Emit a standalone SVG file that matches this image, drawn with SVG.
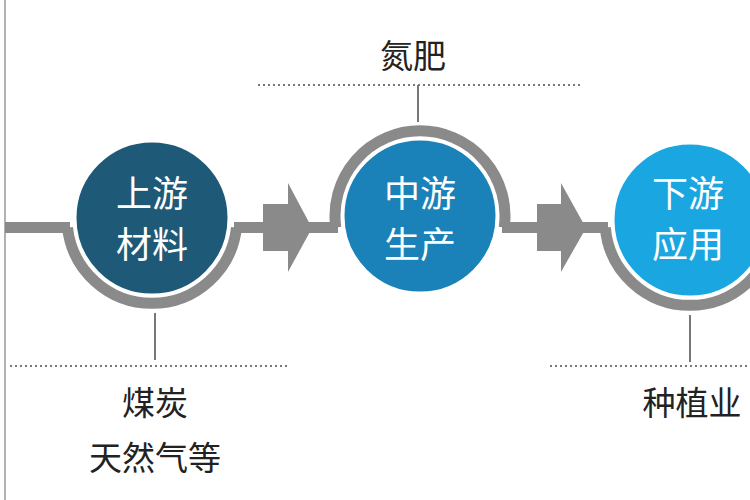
<svg xmlns="http://www.w3.org/2000/svg" width="750" height="500" viewBox="0 0 750 500">
<style>
.ring{fill:none;stroke:#8a8a8a;stroke-width:11}
.bar{fill:#8a8a8a}
.dot{stroke:#777;stroke-width:2;stroke-dasharray:2 3;fill:none}
.stem{stroke:#777;stroke-width:2}
.ct{font-family:"Noto Sans CJK SC",sans-serif;font-size:36px;fill:#fff;text-anchor:middle}
.lt{font-family:"Noto Sans CJK SC",serif;font-size:33px;fill:#222;text-anchor:middle}
</style>
<rect width="750" height="500" fill="#fff"/>
<line x1="5" y1="0" x2="5" y2="500" stroke="#999" stroke-width="1.5"/>
<g id="connectors">
<rect class="bar" x="5" y="222" width="65" height="11"/>
<path class="ring" d="M67.5 227.5 A85 85 0 0 0 236.5 227.5"/>
<rect class="bar" x="234" y="222" width="104" height="11"/>
<path class="ring" d="M335.8 227.5 A85 85 0 1 1 504.2 227.5"/>
<rect class="bar" x="502" y="222" width="106" height="11"/>
<path class="ring" d="M605.3 227.5 A85 85 0 0 0 774.7 227.5"/>
<path class="bar" d="M263 204 H288 V183 L312 228 L288 272 V251 H263 Z"/>
<path class="bar" d="M537 204 H561 V183 L586 228 L561 272 V251 H537 Z"/>
<line class="dot" x1="258" y1="85" x2="580" y2="85"/>
<line class="stem" x1="418" y1="85" x2="418" y2="122"/>
<line class="dot" x1="10" y1="366" x2="290" y2="366"/>
<line class="stem" x1="155" y1="313" x2="155" y2="360"/>
<line class="dot" x1="550" y1="366" x2="750" y2="366"/>
<line class="stem" x1="690" y1="315" x2="690" y2="362"/>
</g>
<g id="up">
<circle cx="152" cy="218" r="77" fill="#1e5a78" stroke="#fff" stroke-width="3"/>
<text class="ct" x="152" y="207">上游</text>
<text class="ct" x="152" y="258">材料</text>
</g>
<g id="mid">
<circle cx="420" cy="216" r="77" fill="#1a82b8" stroke="#fff" stroke-width="3"/>
<text class="ct" x="420" y="207">中游</text>
<text class="ct" x="420" y="258">生产</text>
</g>
<g id="down">
<circle cx="690" cy="220" r="77" fill="#1aa6e0" stroke="#fff" stroke-width="3"/>
<text class="ct" x="688" y="207">下游</text>
<text class="ct" x="688" y="258">应用</text>
</g>
<g id="labels">
<text class="lt" x="413" y="68">氮肥</text>
<text class="lt" x="155" y="415">煤炭</text>
<text class="lt" x="155" y="470">天然气等</text>
<text class="lt" x="692" y="415">种植业</text>
</g>
</svg>
